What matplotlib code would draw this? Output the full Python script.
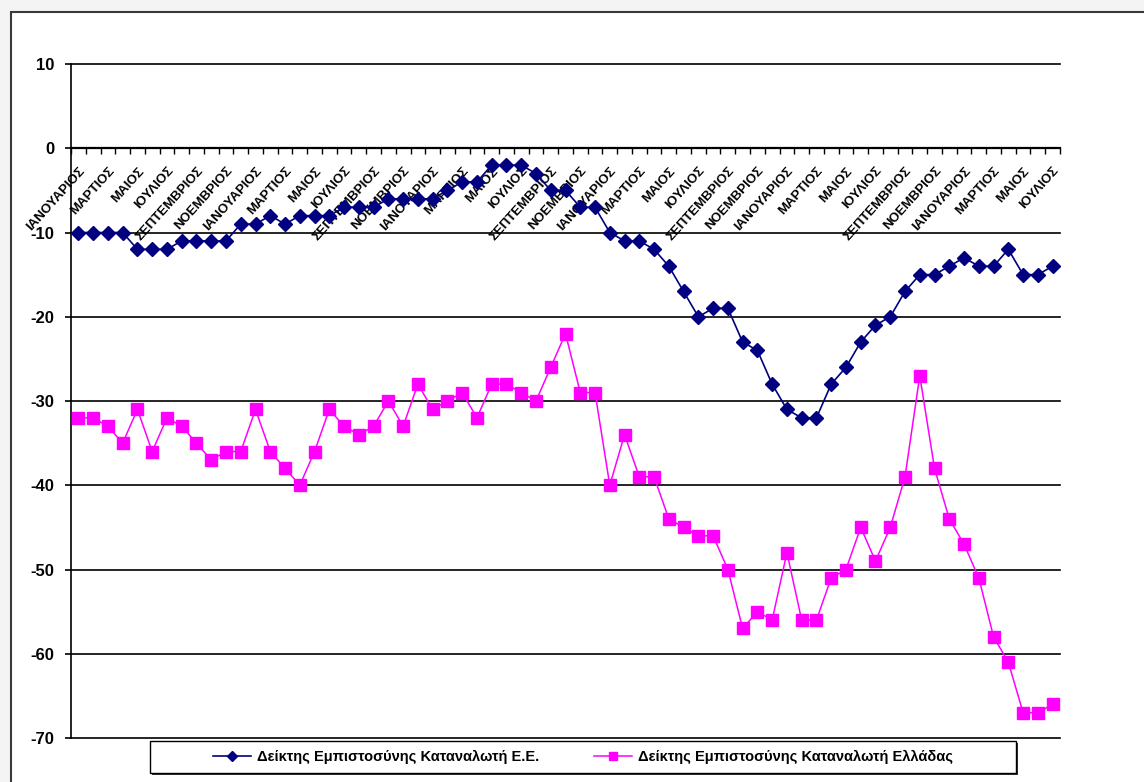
import numpy as np
import matplotlib
matplotlib.use("Agg")
import matplotlib.pyplot as plt
from matplotlib.patches import Rectangle
from matplotlib.ticker import MultipleLocator, FixedLocator

plt.rcParams["font.family"] = ["Liberation Sans", "DejaVu Sans"]
plt.rcParams["font.weight"] = "bold"
plt.rcParams["axes.unicode_minus"] = False

# Month labels shown on every second month (January ... July over several years)
months = ["ΙΑΝΟΥΑΡΙΟΣ", "ΜΑΡΤΙΟΣ", "ΜΑΙΟΣ", "ΙΟΥΛΙΟΣ", "ΣΕΠΤΕΜΒΡΙΟΣ", "ΝΟΕΜΒΡΙΟΣ"]
tick_labels = months * 5 + months[:4]

eu_index = [-10, -10, -10, -10, -12, -12, -12, -11, -11, -11,
            -11, -9, -9, -8, -9, -8, -8, -8, -7, -7,
            -7, -6, -6, -6, -6, -5, -4, -4, -2, -2,
            -2, -3, -5, -5, -7, -7, -10, -11, -11, -12,
            -14, -17, -20, -19, -19, -23, -24, -28, -31, -32,
            -32, -28, -26, -23, -21, -20, -17, -15, -15, -14,
            -13, -14, -14, -12, -15, -15, -14]

greece_index = [-32, -32, -33, -35, -31, -36, -32, -33, -35, -37,
                -36, -36, -31, -36, -38, -40, -36, -31, -33, -34,
                -33, -30, -33, -28, -31, -30, -29, -32, -28, -28,
                -29, -30, -26, -22, -29, -29, -40, -34, -39, -39,
                -44, -45, -46, -46, -50, -57, -55, -56, -48, -56,
                -56, -51, -50, -45, -49, -45, -39, -27, -38, -44,
                -47, -51, -58, -61, -67, -67, -66]

series_names = ["Δείκτης Εμπιστοσύνης Καταναλωτή Ε.Ε.",
                "Δείκτης Εμπιστοσύνης Καταναλωτή Ελλάδας"]

W, H = 1144, 782
fig = plt.figure(figsize=(W / 100, H / 100), dpi=100, facecolor="#f4f4f4")

# white chart area with a dark border
fig.patches.append(Rectangle((11 / W, -0.1), 1.2, (H - 12) / H + 0.1,
                             transform=fig.transFigure, facecolor="white",
                             edgecolor="#3a3a3a", linewidth=1.5, zorder=-10))

ax = fig.add_axes([71 / W, 44 / H, 989 / W, 674 / H])
ax.set_facecolor("none")

x = np.arange(len(eu_index))
ax.set_xlim(-0.5, len(eu_index) - 0.5)
ax.set_ylim(-70, 10)

ax.yaxis.set_major_locator(MultipleLocator(10))
ax.grid(axis="y", color="black", linewidth=1.2)
ax.set_axisbelow(True)
for gl in ax.get_ygridlines():
    gl.set_clip_on(False)

for s in ("top", "right"):
    ax.spines[s].set_visible(False)
ax.spines["left"].set_linewidth(1.2)
ax.spines["bottom"].set_position(("data", 0))
ax.spines["bottom"].set_linewidth(1.6)

ax.tick_params(axis="y", direction="out", length=4, width=1.2, pad=8,
               labelsize=12)

ax.set_xticks(x[::2])
ax.set_xticklabels(tick_labels, rotation=48, ha="right", va="top",
                   rotation_mode="anchor", fontsize=9.5)
ax.tick_params(axis="x", which="major", length=0, pad=12)
ax.xaxis.set_minor_locator(FixedLocator(np.arange(-0.5, len(eu_index), 1)))
ax.tick_params(axis="x", which="minor", direction="out", length=4, width=1)

eu_line, = ax.plot(x, eu_index, color="#000080", linewidth=1.2, marker="D",
                   markersize=7, markerfacecolor="#000080",
                   markeredgecolor="#000080", zorder=3, clip_on=False)
gr_line, = ax.plot(x, greece_index, color="#ff00ff", linewidth=1.1,
                   marker="s", markersize=8, markerfacecolor="#ff00ff",
                   markeredgecolor="#ff00ff", zorder=3, clip_on=False)

# legend box with a shadow
lx0, lx1, ly0, ly1 = 150, 1016, 741, 773
fig.patches.append(Rectangle(((lx0 + 2) / W, (H - ly1 - 2) / H),
                             (lx1 - lx0) / W, (ly1 - ly0) / H,
                             transform=fig.transFigure, facecolor="#333333",
                             edgecolor="none", zorder=5))
fig.patches.append(Rectangle((lx0 / W, (H - ly1) / H),
                             (lx1 - lx0) / W, (ly1 - ly0) / H,
                             transform=fig.transFigure, facecolor="white",
                             edgecolor="black", linewidth=1.0, zorder=6))
leg = fig.legend([eu_line, gr_line], series_names, loc="center",
                 bbox_to_anchor=((lx0 + lx1) / 2 / W, (H - (ly0 + ly1) / 2) / H),
                 ncol=2, frameon=False, fontsize=10.5, handlelength=2.6,
                 handletextpad=0.4, columnspacing=3.8, markerscale=0.7)
leg.set_zorder(7)

fig.savefig("out.png", dpi=100, facecolor=fig.get_facecolor())
